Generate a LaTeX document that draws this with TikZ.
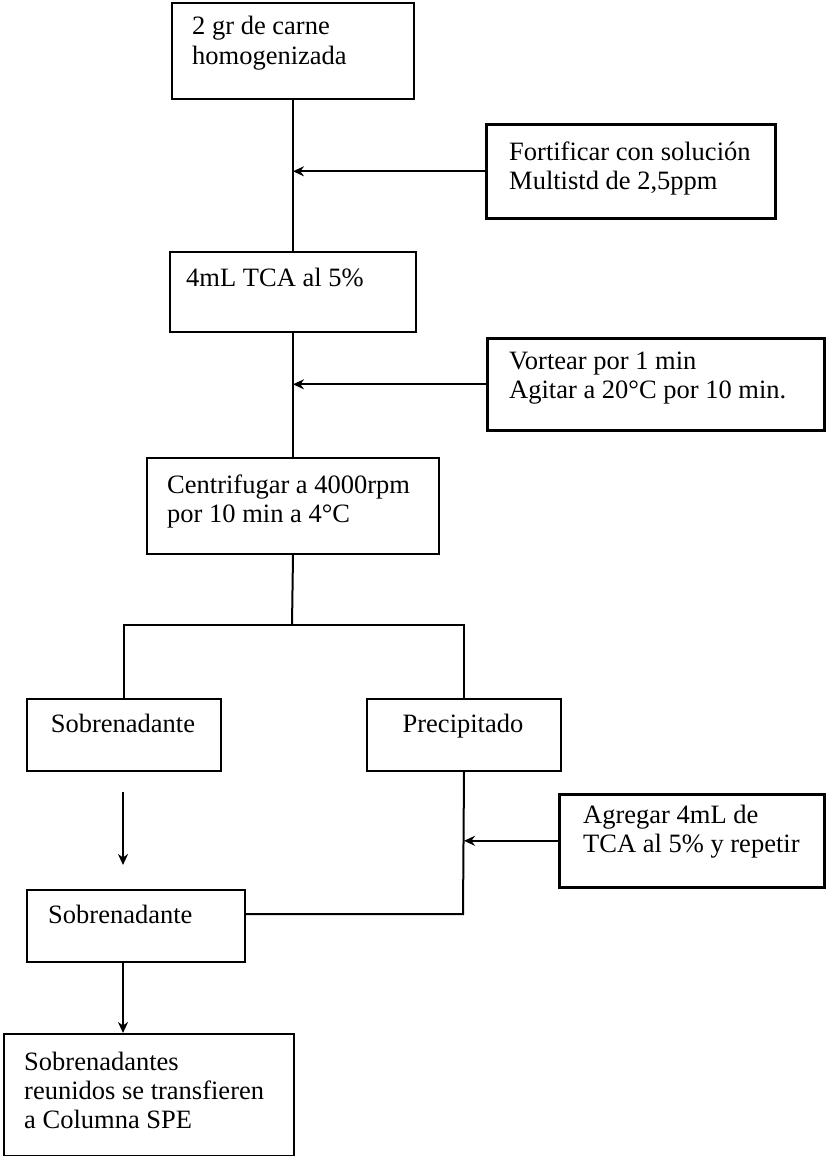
\documentclass[tikz,border=0pt]{standalone}
\usepackage{fontspec}
\setmainfont{Liberation Serif}
\usetikzlibrary{arrows.meta}
\newcommand{\boxlines}[1]{\begin{tabular}[t]{@{}l@{}}#1\end{tabular}}
\begin{document}
\begin{tikzpicture}[x=1pt,y=-1pt,
  box/.style={draw, line width=2pt, rectangle, inner sep=0pt, anchor=north west},
  heavybox/.style={box, line width=2.6pt},
  txt/.style={inner sep=0pt, anchor=base west, font=\fontsize{26.5}{29}\selectfont},
  ctxt/.style={txt, anchor=base},
  link/.style={line width=2pt},
  arr/.style={link, -{Stealth[length=11pt,width=10pt]}}]
\useasboundingbox (0,0) rectangle (825,1156);

% main column
\node[box, minimum width=242pt, minimum height=96pt] (b1) at (171,2) {};
\node[txt] (b1t) at (192,35) {\boxlines{2 gr de carne\\homogenizada}};

\node[heavybox, minimum width=289pt, minimum height=94pt] (fort) at (485,123) {};
\node[txt] (fortt) at (509,160) {\boxlines{Fortificar con solución\\Multistd de 2,5ppm}};

\node[box, minimum width=246pt, minimum height=80pt] (tca) at (169,251) {};
\node[txt] (tcat) at (186,286) {4mL TCA al 5\%};

\node[heavybox, minimum width=337pt, minimum height=92pt] (vort) at (486,337) {};
\node[txt] (vortt) at (509,369) {\boxlines{Vortear por 1 min\\Agitar a 20°C por 10 min.}};

\node[box, minimum width=292pt, minimum height=96pt] (cen) at (146,457) {};
\node[txt] (cent) at (167,493) {\boxlines{Centrifugar a 4000rpm\\por 10 min a 4°C}};

% two branches
\node[box, minimum width=194pt, minimum height=72pt] (sob1) at (26,698) {};
\node[ctxt] (sob1t) at (123,732) {Sobrenadante};

\node[box, minimum width=194pt, minimum height=72pt] (prec) at (366,698) {};
\node[ctxt] (prect) at (463,732) {Precipitado};

\node[heavybox, minimum width=265pt, minimum height=93pt] (agr) at (558,793) {};
\node[txt] (agrt) at (583,823) {\boxlines{Agregar 4mL de\\TCA al 5\% y repetir}};

\node[box, minimum width=218pt, minimum height=72pt] (sob2) at (26,889) {};
\node[txt] (sob2t) at (48,923) {Sobrenadante};

\node[box, minimum width=290pt, minimum height=122pt] (fin) at (3,1033) {};
\node[txt] (fint) at (24,1070) {\boxlines{Sobrenadantes\\reunidos se transfieren\\a Columna SPE}};

% junction points
\coordinate (split) at (292,625);
\coordinate (a1) at (123,792);
\coordinate (a2) at (123,865);
\coordinate (join) at (463,914);

% connectors
\draw[link] (b1.south) -- (tca.north);
\draw[arr] (fort.west) -- (fort.west -| b1.south);
\draw[link] (tca.south) -- (cen.north);
\draw[arr] (vort.west) -- (vort.west -| cen.north);
\draw[link] (cen.south) -- (split);
\draw[link] (sob1.north) -- (sob1.north |- split) -- (prec.north |- split) -- (prec.north);
\draw[arr] (a1) -- (a2);
\draw[link] (prec.south) -- (join) -- (join -| sob2.east);
\draw[arr] (agr.west) -- (agr.west -| prec.south);
\draw[arr] (sob2.south -| a1) -- (fin.north -| a1);
\end{tikzpicture}
\end{document}
